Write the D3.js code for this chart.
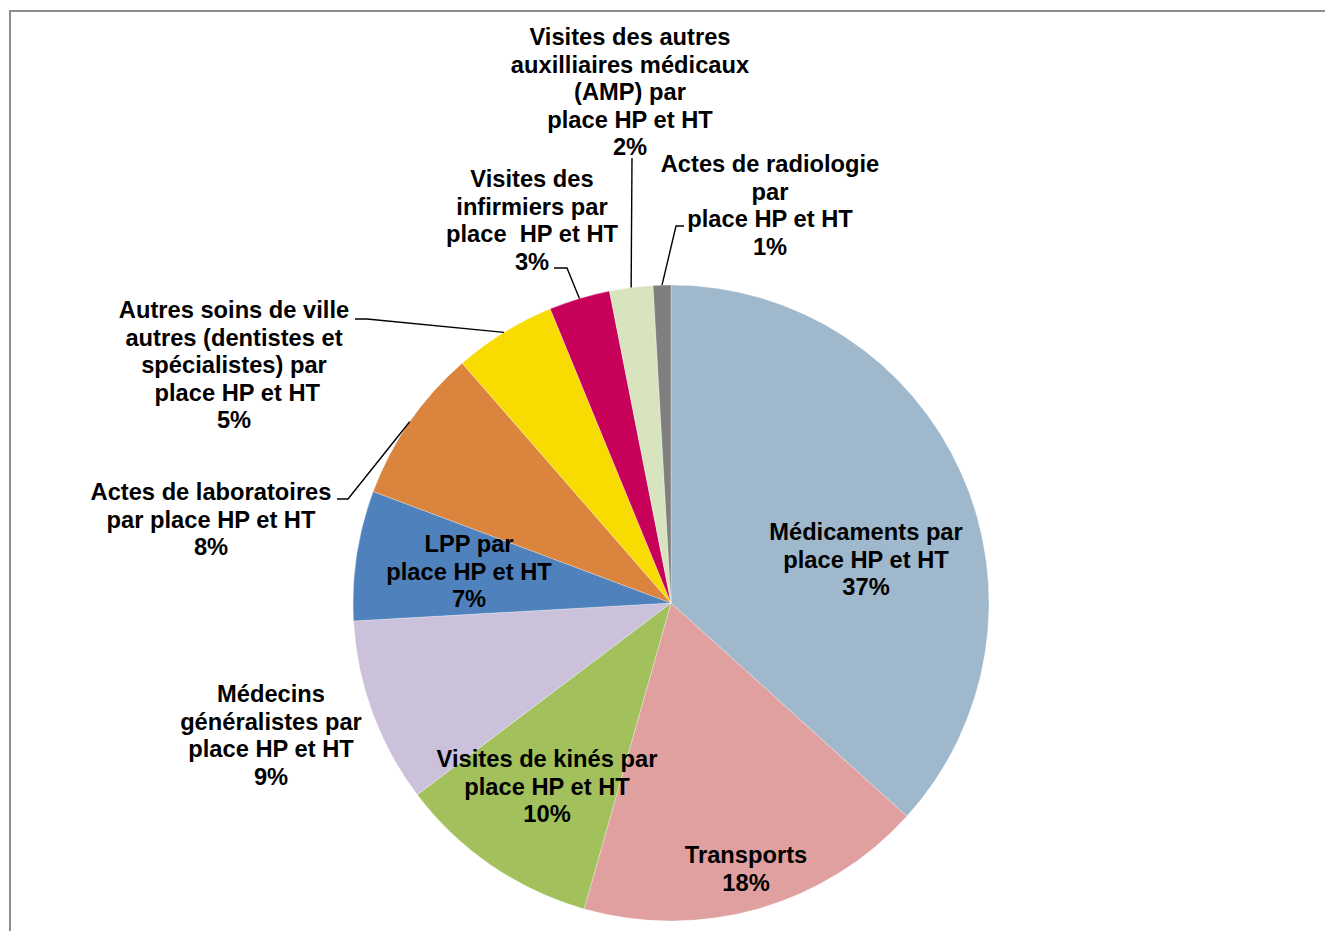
<!DOCTYPE html>
<html>
<head>
<meta charset="utf-8">
<script src="https://cdn.jsdelivr.net/npm/d3@7"></script>
<style>
  html, body { margin: 0; padding: 0; background: #fff; }
  svg { display: block; }
</style>
</head>
<body>
<svg id="chart" width="1325" height="931"></svg>
<script>
// ---- Data ----
const categories = [
  "Médicaments par place HP et HT",
  "Transports",
  "Visites de kinés par place HP et HT",
  "Médecins généralistes par place HP et HT",
  "LPP par place HP et HT",
  "Actes de laboratoires par place HP et HT",
  "Autres soins de ville autres (dentistes et spécialistes) par place HP et HT",
  "Visites des infirmiers par place  HP et HT",
  "Visites des autres auxilliaires médicaux (AMP) par place HP et HT",
  "Actes de radiologie par place HP et HT"
];
const values = [36.7, 17.7, 10.3, 9.4, 6.6, 7.9, 5.2, 3.1, 2.2, 0.9];
const labelLines = [
  ["Médicaments par", "place HP et HT"],
  ["Transports"],
  ["Visites de kinés par", "place HP et HT"],
  ["Médecins", "généralistes par", "place HP et HT"],
  ["LPP par", "place HP et HT"],
  ["Actes de laboratoires", "par place HP et HT"],
  ["Autres soins de ville", "autres (dentistes et", "spécialistes) par", " place HP et HT"],
  ["Visites des", "infirmiers par", "place  HP et HT"],
  ["Visites des autres", "auxilliaires médicaux", "(AMP) par", "place HP et HT"],
  ["Actes de radiologie", "par", "place HP et HT"]
];
const colors = ["#9FB8CC", "#E0A09F", "#A2C05B", "#CCC1DA", "#4F81BD",
                "#DB843D", "#F8DB00", "#C7005A", "#D8E4BD", "#7F7F7F"];

// ---- Layout (positions only) ----
const cx = 671, cy = 603, R = 318;
const fontSize = 23.7, lineH = 27.6;
// label anchor: center x, first baseline y; leader: start and elbow points (null = no leader)
const labelPos = [
  {x: 866, y: 540, leader: null},
  {x: 746, y: 863, leader: null},
  {x: 547, y: 767, leader: null},
  {x: 271, y: 702, leader: null},
  {x: 469, y: 552, leader: null},
  {x: 211, y: 500, leader: [[337, 499], [348, 499]]},
  {x: 234, y: 318, leader: [[355, 319], [367, 319]]},
  {x: 532, y: 187, leader: [[554, 268], [567, 268]]},
  {x: 630, y: 45,  leader: [[632, 158]]},
  {x: 770, y: 172, leader: [[684, 226], [676, 226]]}
];

const total = d3.sum(values);
const svg = d3.select("#chart");

// frame
svg.append("rect")
  .attr("x", 10).attr("y", 11)
  .attr("width", 1400).attr("height", 1000)
  .attr("fill", "none")
  .attr("stroke", "#8E8E8E")
  .attr("stroke-width", 2);

const pie = d3.pie().sort(null).value(d => d)(values);
const arc = d3.arc().innerRadius(0).outerRadius(R);
const edgeArc = d3.arc().innerRadius(R).outerRadius(R);

const g = svg.append("g").attr("transform", `translate(${cx},${cy})`);
g.selectAll("path.slice")
  .data(pie)
  .join("path")
  .attr("class", "slice")
  .attr("d", arc)
  .attr("fill", (d, i) => colors[i])
  .attr("stroke", "#fff")
  .attr("stroke-width", 0.3);

// leader lines
pie.forEach((d, i) => {
  const lp = labelPos[i];
  if (!lp.leader) return;
  const c = edgeArc.centroid(d);
  const pts = lp.leader.map(p => [p[0], p[1]]).concat([[cx + c[0], cy + c[1]]]);
  svg.append("path")
    .attr("d", d3.line()(pts))
    .attr("fill", "none")
    .attr("stroke", "#000")
    .attr("stroke-width", 1.4);
});

// labels
pie.forEach((d, i) => {
  const lp = labelPos[i];
  const pct = Math.round(values[i] / total * 100) + "%";
  const lines = labelLines[i].concat([pct]);
  const t = svg.append("text")
    .attr("text-anchor", "middle")
    .attr("font-family", "'Liberation Sans', Arial, Helvetica, sans-serif")
    .attr("font-weight", "bold")
    .attr("font-size", fontSize)
    .attr("fill", "#000")
    .style("white-space", "pre");
  lines.forEach((ln, k) => {
    t.append("tspan")
      .attr("x", lp.x)
      .attr("y", lp.y + k * lineH)
      .text(ln);
  });
});
</script>
</body>
</html>
